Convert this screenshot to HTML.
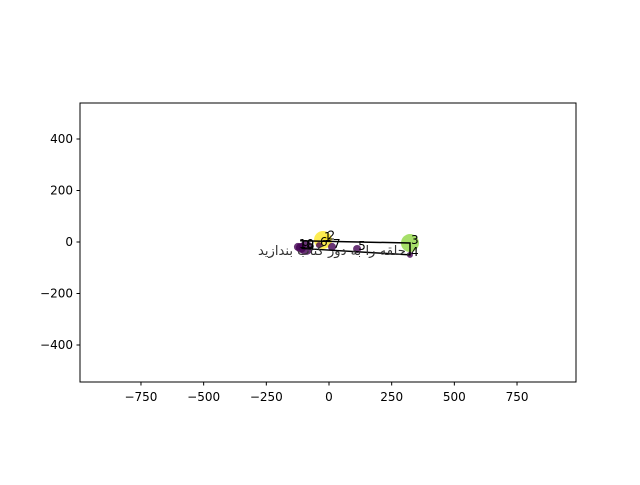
<!DOCTYPE html>
<html><head><meta charset="utf-8"><style>
body{margin:0;background:#fff}
text{font-family:"DejaVu Sans","Liberation Sans",sans-serif}
</style></head><body>
<svg id="c" width="640" height="480" xmlns="http://www.w3.org/2000/svg">
<rect x="0" y="0" width="640" height="480" fill="#fff"/>
<g id="marks"></g>
<rect x="80" y="103" width="496" height="279" fill="none" stroke="#000" stroke-width="1"/>
<g id="axes"></g>
</svg>
<script>
const labels=["1","2","3","4","5","6","7","8","9","10"];
const xs=[-24,-10,323,323,112,-40,12,-92,-112,-124];
const ys=[8,14,-4,-50,-27,-12,-19,-23,-23,-19];
const sizes=[9,3,9,3,4,3,4,7,5,4];
const colors=["#fde725","#fde725","#90d743","#440154","#440154","#440154","#440154","#440154","#440154","#440154"];
const lineX=[-115,323,323,-110];
const lineY=[5,-4,-50,-25];
const xTicks=[-750,-500,-250,0,250,500,750];
const yTicks=[400,200,0,-200,-400];
const sx=v=>329+0.2507*v, sy=v=>242-0.2575*v;
const NS="http://www.w3.org/2000/svg";
const marks=document.getElementById('marks'), axes=document.getElementById('axes');
function mk(t,a,p){const e=document.createElementNS(NS,t);for(const k in a)e.setAttribute(k,a[k]);p.appendChild(e);return e;}
xs.forEach((x,i)=>{const c=mk('circle',{cx:sx(x),cy:sy(ys[i]),r:sizes[i],fill:colors[i],'fill-opacity':0.8},marks);

});
const pl=mk('polyline',{points:lineX.map((x,i)=>sx(x)+','+sy(lineY[i])).join(' '),fill:'none',stroke:'#000','stroke-width':1.5},marks);


const note=mk('text',{x:258,y:255,'text-anchor':'start','font-size':13,fill:'#333',textLength:152,lengthAdjust:'spacingAndGlyphs'},marks);
note.textContent='حلقه را به دور کتاب بندازید.';


xs.forEach((x,i)=>{const t=mk('text',{x:sx(x)+1,y:sy(ys[i])+1,'font-size':12,fill:'#000'},marks);t.textContent=labels[i];

});
xTicks.forEach(v=>{const x=sx(v);mk('line',{x1:x,x2:x,y1:382,y2:385.5,stroke:'#000'},axes);
const t=mk('text',{x:x,y:401,'text-anchor':'middle','font-size':12},axes);t.textContent=v<0?'−'+(-v):v;

});
yTicks.forEach(v=>{const y=sy(v);mk('line',{x1:76.5,x2:80,y1:y,y2:y,stroke:'#000'},axes);
const t=mk('text',{x:73,y:y+4,'text-anchor':'end','font-size':12},axes);t.textContent=v<0?'−'+(-v):v;

});
</script>
</body></html>
